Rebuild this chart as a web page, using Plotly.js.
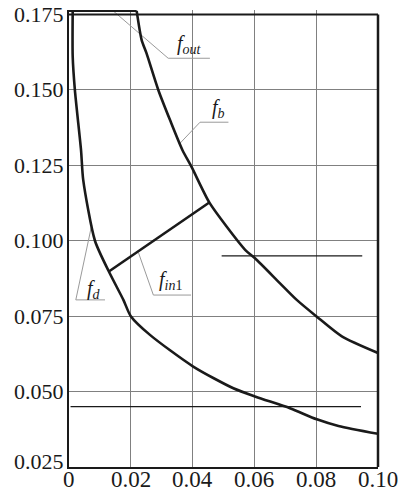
<!DOCTYPE html>
<html>
<head>
<meta charset="utf-8">
<script src="https://cdn.plot.ly/plotly-3.0.1.min.js"></script>
<style>html,body{margin:0;padding:0;background:#fff;}#chart{width:403px;height:492px;}</style>
</head>
<body>
<div id="chart"></div>
<script>
// ---- data ----
var fbX = [0.0219, 0.0235, 0.0251, 0.0289, 0.0327, 0.0367, 0.0397, 0.0454, 0.0510, 0.0570, 0.0602, 0.0683, 0.0737, 0.0800, 0.0883, 0.1000];
var fbY = [0.1762, 0.1666, 0.1621, 0.1500, 0.1400, 0.1301, 0.1244, 0.1127, 0.1047, 0.0970, 0.0942, 0.0859, 0.0804, 0.0750, 0.0683, 0.0628];

var fdX = [0.0012, 0.0012, 0.0019, 0.0039, 0.0046, 0.0084, 0.0129, 0.0176, 0.0200, 0.0262, 0.0402, 0.0532, 0.0604, 0.0715, 0.0802, 0.0872, 0.1000];
var fdY = [0.1762, 0.1610, 0.1500, 0.1300, 0.1202, 0.1000, 0.0898, 0.0804, 0.0750, 0.0688, 0.0583, 0.0511, 0.0483, 0.0445, 0.0408, 0.0386, 0.0360];

var finX = [0.0129, 0.0454];
var finY = [0.0898, 0.1127];

var foutX = [0.0, 0.0219];
var foutY = [0.1762, 0.1762];

var hUpperX = [0.0494, 0.0949];
var hUpperY = [0.095, 0.095];
var hLowerX = [0.0005, 0.0945];
var hLowerY = [0.045, 0.045];

var xTickVals = [0, 0.02, 0.04, 0.06, 0.08, 0.10];
var xTickText = ["0", "0.02", "0.04", "0.06", "0.08", "0.10"];
var yTickVals = [0.025, 0.050, 0.075, 0.100, 0.125, 0.150, 0.175];
var yTickText = ["0.025", "0.050", "0.075", "0.100", "0.125", "0.150", "0.175"];

// labels: text, anchor position, leader polyline
var labelText = ["<i>f</i><sub><i>out</i></sub>", "<i>f</i><sub><i>b</i></sub>", "<i>f</i><sub><i>in</i>1</sub>", "<i>f</i><sub><i>d</i></sub>"];
var labelX = [0.0343, 0.0456, 0.0285, 0.0052];
var labelY = [0.1649, 0.1437, 0.0867, 0.0837];
var leaderX = [[0.0143, 0.0321, 0.0456], [0.0359, 0.0424, 0.0516], [0.0225, 0.0273, 0.0395], [0.00735, 0.0022, 0.01165]];
var leaderY = [[0.1762, 0.1605, 0.1605], [0.1323, 0.1393, 0.1393], [0.0960, 0.0820, 0.0820], [0.1052, 0.0804, 0.0804]];

// ---- build ----
var serif = "Liberation Serif";
var ink = "#1a1a1a";
var traces = [];
for (var i = 0; i < leaderX.length; i++) {
  traces.push({x: leaderX[i], y: leaderY[i], mode: "lines", line: {color: "#9a9a9a", width: 1}, hoverinfo: "skip", showlegend: false});
}
traces.push({x: hUpperX, y: hUpperY, mode: "lines", line: {color: ink, width: 1.3}, showlegend: false});
traces.push({x: hLowerX, y: hLowerY, mode: "lines", line: {color: ink, width: 1.3}, showlegend: false});
traces.push({x: foutX, y: foutY, mode: "lines", line: {color: ink, width: 2.2}, showlegend: false});
traces.push({x: fbX, y: fbY, mode: "lines", line: {color: ink, width: 2.6, shape: "spline", smoothing: 0.7}, showlegend: false});
traces.push({x: fdX, y: fdY, mode: "lines", line: {color: ink, width: 2.6, shape: "spline", smoothing: 0.7}, showlegend: false});
traces.push({x: finX, y: finY, mode: "lines", line: {color: ink, width: 2.6}, showlegend: false});

var annotations = [];
for (var j = 0; j < labelText.length; j++) {
  annotations.push({x: labelX[j], y: labelY[j], xref: "x", yref: "y", text: labelText[j], showarrow: false,
    xanchor: "left", yanchor: "middle", font: {family: serif, size: 20, color: ink}});
}
// tick labels (drawn as annotations on the axis scales so the serif face is used)
for (var a = 0; a < yTickVals.length; a++) {
  annotations.push({x: 0, xref: "paper", y: yTickVals[a], yref: "y", text: yTickText[a], showarrow: false,
    xanchor: "right", yanchor: "middle", xshift: -4, yshift: (a === 0 ? 6 : 0), borderpad: 0,
    font: {family: serif, size: 22, color: ink}});
}
for (var b = 0; b < xTickVals.length; b++) {
  annotations.push({x: xTickVals[b], xref: "x", y: 0, yref: "paper", text: xTickText[b], showarrow: false,
    xanchor: "center", yanchor: "top", yshift: 1, borderpad: 0,
    font: {family: serif, size: 23, color: ink}});
}

var layout = {
  width: 403, height: 492,
  font: {family: serif, color: ink},
  margin: {l: 69, r: 25, t: 10, b: 25, pad: 0},
  paper_bgcolor: "#fff", plot_bgcolor: "#fff",
  showlegend: false,
  xaxis: {range: [0, 0.1], tickvals: xTickVals, showticklabels: false, showgrid: true, gridcolor: "#808080", gridwidth: 1,
    zeroline: false, showline: true, linecolor: ink, linewidth: 2, ticks: ""},
  yaxis: {range: [0.025, 0.1765], tickvals: yTickVals, showticklabels: false, showgrid: true, gridcolor: "#808080", gridwidth: 1,
    zeroline: false, showline: true, linecolor: ink, linewidth: 2, ticks: ""},
  shapes: [
    {type: "line", xref: "paper", yref: "y", x0: 0, x1: 1, y0: 0.175, y1: 0.175, line: {color: ink, width: 2}, layer: "above"},
    {type: "line", xref: "paper", yref: "y", x0: 1, x1: 1, y0: 0.025, y1: 0.175, line: {color: ink, width: 2.5}, layer: "above"}
  ],
  annotations: annotations
};

Plotly.newPlot("chart", traces, layout, {staticPlot: true, displayModeBar: false});
</script>
</body>
</html>
